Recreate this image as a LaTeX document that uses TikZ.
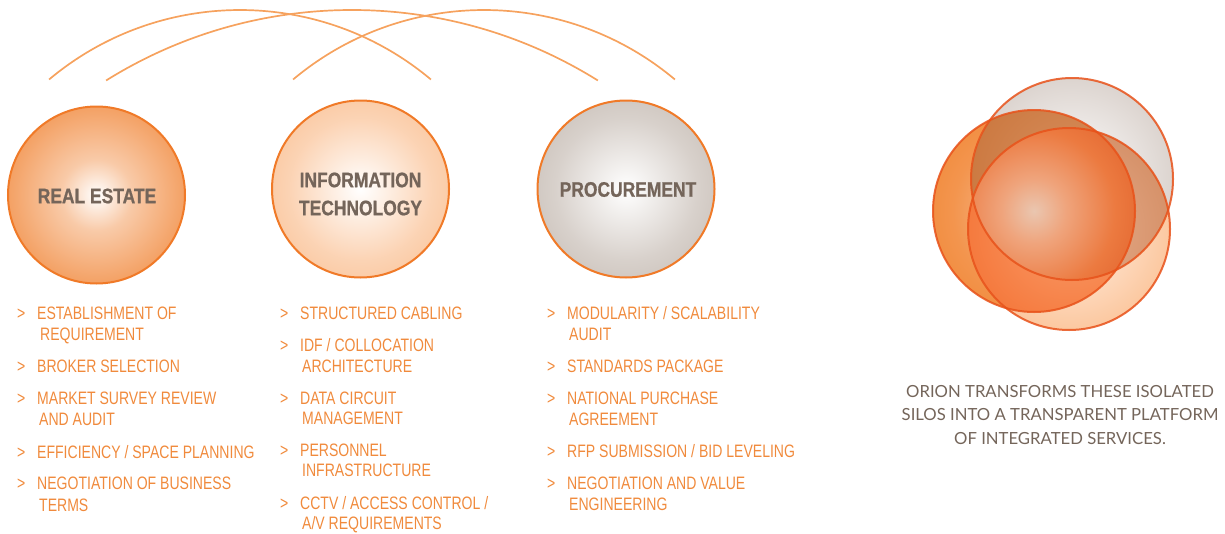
\documentclass[tikz,border=0pt]{standalone}
\usepackage{fontspec}
\setmainfont{Liberation Sans}
\newfontfamily\listfont[FakeStretch=0.78]{Liberation Sans}
\newfontfamily\headfont[FakeStretch=0.83, FakeBold=0.8]{Liberation Sans Bold}
\newfontfamily\orionfont{Lato}
\definecolor{txtO}{HTML}{F08A3C}
\definecolor{headT}{HTML}{74655A}
\definecolor{arcC}{HTML}{F6A25E}
\definecolor{edgeO}{HTML}{F07A28}
\definecolor{reO}{HTML}{EF7B26}
\definecolor{itO}{HTML}{F8A86A}
\definecolor{prG}{HTML}{B1A398}
\definecolor{vEdge}{HTML}{E8521A}
\pgfdeclareradialshading{reShade}{\pgfpoint{0bp}{0bp}}{color(0bp)=(white); color(10bp)=(reO!40!white); color(30bp)=(reO!82!white); color(50bp)=(reO); color(100bp)=(reO)}
\pgfdeclareradialshading{itShade}{\pgfpoint{0bp}{0bp}}{color(0bp)=(white); color(20bp)=(itO!50!white); color(50bp)=(itO); color(100bp)=(itO)}
\pgfdeclareradialshading{prShade}{\pgfpoint{0bp}{0bp}}{color(0bp)=(white); color(20bp)=(prG!50!white); color(50bp)=(prG); color(100bp)=(prG)}
\pgfdeclareradialshading{vAShade}{\pgfpoint{0bp}{0bp}}{color(0bp)=(rgb,255:red,247;green,196;blue,160); color(20bp)=(rgb,255:red,243;green,149;blue,78); color(35bp)=(rgb,255:red,240;green,132;blue,48); color(50bp)=(rgb,255:red,238;green,122;blue,34); color(100bp)=(rgb,255:red,238;green,122;blue,34)}
\pgfdeclareradialshading{vBShade}{\pgfpoint{0bp}{0bp}}{color(0bp)=(white); color(25bp)=(rgb,255:red,220;green,212;blue,207); color(50bp)=(rgb,255:red,160;green,142;blue,128); color(100bp)=(rgb,255:red,160;green,142;blue,128)}
\pgfdeclareradialshading{vCShade}{\pgfpoint{0bp}{0bp}}{color(0bp)=(rgb,255:red,255;green,242;blue,232); color(25bp)=(rgb,255:red,252;green,200;blue,160); color(50bp)=(rgb,255:red,247;green,156;blue,90); color(100bp)=(rgb,255:red,247;green,156;blue,90)}
\pgfdeclareradialshading{vABShade}{\pgfpoint{0bp}{0bp}}{color(0bp)=(rgb,255:red,216;green,144;blue,96); color(25bp)=(rgb,255:red,204;green,122;blue,66); color(50bp)=(rgb,255:red,178;green,92;blue,42); color(100bp)=(rgb,255:red,178;green,92;blue,42)}
\pgfdeclareradialshading{vACShade}{\pgfpoint{0bp}{0bp}}{color(0bp)=(rgb,255:red,250;green,156;blue,106); color(25bp)=(rgb,255:red,245;green,122;blue,62); color(50bp)=(rgb,255:red,236;green,92;blue,28); color(100bp)=(rgb,255:red,236;green,92;blue,28)}
\pgfdeclareradialshading{vBCShade}{\pgfpoint{0bp}{0bp}}{color(0bp)=(rgb,255:red,232;green,176;blue,144); color(25bp)=(rgb,255:red,214;green,146;blue,106); color(50bp)=(rgb,255:red,186;green,108;blue,68); color(100bp)=(rgb,255:red,186;green,108;blue,68)}
\pgfdeclareradialshading{vABCShade}{\pgfpoint{0bp}{0bp}}{color(0bp)=(rgb,255:red,234;green,198;blue,176); color(8bp)=(rgb,255:red,239;green,164;blue,124); color(20bp)=(rgb,255:red,236;green,122;blue,64); color(32bp)=(rgb,255:red,224;green,96;blue,42); color(42bp)=(rgb,255:red,200;green,90;blue,40); color(50bp)=(rgb,255:red,168;green,86;blue,51); color(100bp)=(rgb,255:red,168;green,86;blue,51)}
\tikzset{
  bigc/.style={circle, draw=edgeO, line width=2pt, minimum size=177pt, inner sep=0pt, shade},
  headlbl/.style={font=\headfont\fontsize{21}{28}\selectfont, text=headT, align=center, inner sep=0pt},
  itemtxt/.style={font=\listfont\fontsize{18}{21}\selectfont, text=txtO, anchor=west, inner sep=0pt, text height=13pt, text depth=0pt},
  bul/.style={font=\listfont\fontsize{18}{21}\selectfont, text=txtO, anchor=west, inner sep=0pt, text height=13pt, text depth=0pt},
  arcline/.style={draw=arcC, line width=1.7pt},
  vennedge/.style={draw=vEdge, line width=2pt, draw opacity=0.85}
}
\begin{document}
\begin{tikzpicture}[x=1pt,y=-1pt]
\useasboundingbox (0,0) rectangle (1225,533);
% arcs
\coordinate (s1) at (49.1,79.5);
\coordinate (s2) at (106.1,80.5);
\coordinate (s3) at (293.1,79.5);
\draw[arcline] (s1) arc[start angle=230, end angle=310, radius=297];
\draw[arcline] (s2) arc[start angle=238, end angle=302, radius=464];
\draw[arcline] (s3) arc[start angle=230, end angle=310, radius=297];
% big circles
\node[bigc, shading=reShade] (re) at (96.5,195) {};
\node[bigc, shading=itShade] (it) at (360.5,189) {};
\node[bigc, shading=prShade] (pr) at (626,189) {};
\node[headlbl] (reT) at (97,196) {REAL ESTATE};
\node[headlbl] (itT) at (360.5,194) {INFORMATION\\TECHNOLOGY};
\node[headlbl] (prT) at (628,189.5) {PROCUREMENT};
% list texts
\foreach \x/\y/\t [count=\i] in {
  37/313/{ESTABLISHMENT OF}, 40/334/{REQUIREMENT}, 37/366/{BROKER SELECTION},
  37/398/{MARKET SURVEY REVIEW}, 39/419/{AND AUDIT}, 37/452/{EFFICIENCY / SPACE PLANNING},
  37/483/{NEGOTIATION OF BUSINESS}, 39/505/{TERMS},
  300/313/{STRUCTURED CABLING}, 300/345/{IDF / COLLOCATION}, 302/366/{ARCHITECTURE},
  300/398/{DATA CIRCUIT}, 302/418/{MANAGEMENT}, 300/450/{PERSONNEL},
  302/470/{INFRASTRUCTURE}, 300/503/{CCTV / ACCESS CONTROL /}, 302/523/{A/V REQUIREMENTS},
  567/313/{MODULARITY / SCALABILITY}, 569/334/{AUDIT}, 567/366/{STANDARDS PACKAGE},
  567/398/{NATIONAL PURCHASE}, 569/419/{AGREEMENT}, 567/451/{RFP SUBMISSION / BID LEVELING},
  567/483/{NEGOTIATION AND VALUE}, 569/504/{ENGINEERING}}
  \node[itemtxt] (line\i) at (\x,\y) {\t};
\foreach \x/\y [count=\i] in {17/313, 17/366, 17/398, 17/452, 17/483,
  280/313, 280/345, 280/398, 280/450, 280/503,
  547/313, 547/366, 547/398, 547/451, 547/483}
  \node[bul] (bul\i) at (\x,\y) {>};
% venn: three circles, each overlap region shaded on its own
\coordinate (cA) at (1034,211);
\coordinate (cB) at (1072,179);
\coordinate (cC) at (1069,229);
\shade[shading=vAShade] (cA) circle[radius=101];
\shade[shading=vBShade] (cB) circle[radius=101];
\shade[shading=vCShade] (cC) circle[radius=101];
\begin{scope}
  \clip (cA) circle[radius=101];
  \shade[shading=vABShade] (cB) circle[radius=101];
\end{scope}
\begin{scope}
  \clip (cA) circle[radius=101];
  \shade[shading=vACShade] (cC) circle[radius=101];
\end{scope}
\begin{scope}
  \clip (cB) circle[radius=101];
  \shade[shading=vBCShade] (cC) circle[radius=101];
\end{scope}
\begin{scope}
  \clip (cB) circle[radius=101];
  \clip (cC) circle[radius=101];
  \shade[shading=vABCShade] (cA) circle[radius=101];
\end{scope}
\draw[vennedge] (cA) circle[radius=101];
\draw[vennedge] (cB) circle[radius=101];
\draw[vennedge] (cC) circle[radius=101];
% caption
\node[font=\orionfont\fontsize{16.7}{23.5}\selectfont, text=headT, align=center, inner sep=0pt] (cap) at (1060,415)
  {ORION TRANSFORMS THESE ISOLATED\\SILOS INTO A TRANSPARENT PLATFORM\\OF INTEGRATED SERVICES.};
\end{tikzpicture}
\end{document}
